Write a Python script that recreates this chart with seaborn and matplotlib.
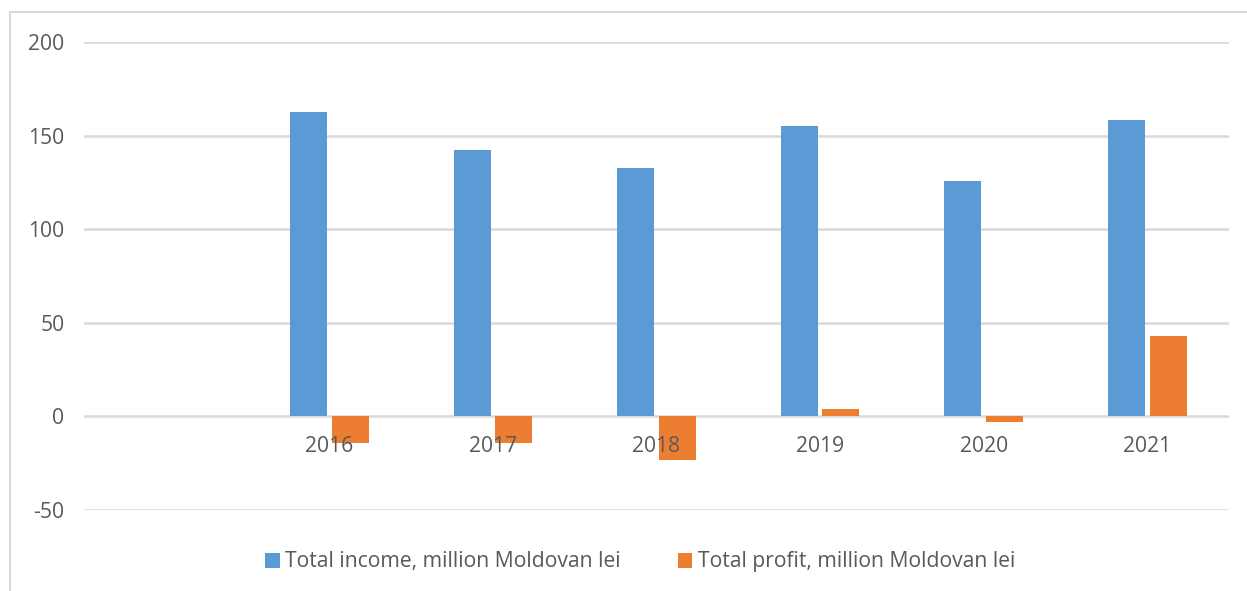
import pandas as pd
import seaborn as sns
import matplotlib.pyplot as plt
from matplotlib.patches import Rectangle

# chart data (first category is an empty slot, as in the original)
categories = ['', '2016', '2017', '2018', '2019', '2020', '2021']
years = ['2016', '2017', '2018', '2019', '2020', '2021']
income = [162.6, 142.3, 132.9, 155.0, 125.8, 158.2]
profit = [-14.0, -14.0, -23.2, 4.1, -3.0, 43.2]
series_names = ['Total income, million Moldovan lei', 'Total profit, million Moldovan lei']
y_ticks = [-50, 0, 50, 100, 150, 200]

blue = '#5B9BD5'
orange = '#ED7D31'
text_col = '#595959'
grid_col = '#D9D9D9'

df = pd.DataFrame({
    'year': years * 2,
    'value': income + profit,
    'series': [series_names[0]] * len(years) + [series_names[1]] * len(years),
})

sns.set_theme(style='white')
plt.rcParams['font.family'] = ['Open Sans', 'DejaVu Sans']
plt.rcParams['axes.unicode_minus'] = False

fig = plt.figure(figsize=(12.47, 5.91), dpi=100)
ax = fig.add_axes([84 / 1247, 1 - 510 / 591, (1229 - 84) / 1247, (510 - 42) / 591])

sns.barplot(data=df, x='year', y='value', hue='series', order=categories,
            hue_order=series_names, palette=[blue, orange], saturation=1,
            width=0.51, gap=0.11, edgecolor='none', ax=ax)

ax.set_ylim(-50, 200)
ax.set_yticks(y_ticks)
ax.set_xlim(-0.5, len(categories) - 0.5)
ax.set_xlabel('')
ax.set_ylabel('')

ax.yaxis.grid(True, color=grid_col, linewidth=1.8)
ax.set_axisbelow(True)
ax.xaxis.set_zorder(3)  # year labels sit on top of the bars
for s in ax.spines.values():
    s.set_visible(False)
ax.spines['bottom'].set_position(('data', 0))

fs = 15.2
ax.tick_params(axis='x', length=0, pad=14, labelsize=fs, labelcolor=text_col)
ax.tick_params(axis='y', length=0, pad=14, labelsize=fs, labelcolor=text_col)

# legend below the plot
handles, labels = ax.get_legend_handles_labels()
ax.get_legend().remove()
fig.legend(handles, labels, loc='center', bbox_to_anchor=(640 / 1247, 1 - 562 / 591),
           ncol=2, frameon=False, fontsize=fs, labelcolor=text_col,
           handlelength=0.7, handleheight=0.7, handletextpad=0.25, columnspacing=2.7)

# light chart border
fig.patches.append(Rectangle((10 / 1247, -0.1), 1.2, 1 - 12 / 591 + 0.1,
                             transform=fig.transFigure, fill=False,
                             edgecolor=grid_col, linewidth=1.5))

fig.savefig('out.png', dpi=100, facecolor='white')
